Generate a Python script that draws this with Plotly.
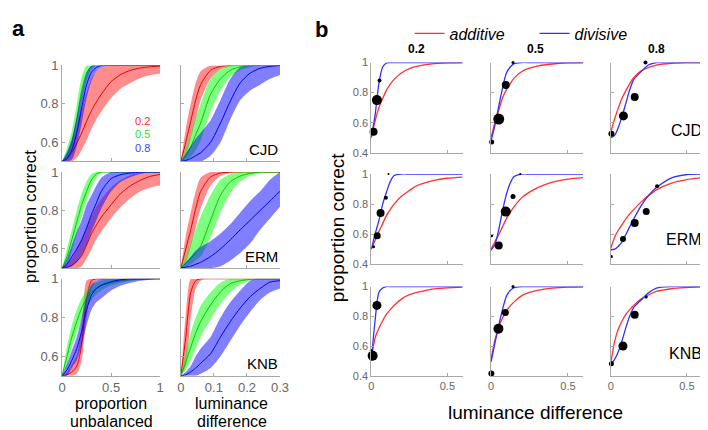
import plotly.graph_objects as go

W, H = 708, 430
FONT = "Liberation Sans, Arial, sans-serif"

# ---------------- panel a : psychometric bands ----------------
x_prop = [0, 0.05, 0.1, 0.15, 0.2, 0.25, 0.3, 0.35, 0.4, 0.5, 0.6, 0.7, 0.8, 0.9, 1.0]
x_lum = [0, 0.015, 0.03, 0.045, 0.06, 0.09, 0.12, 0.15, 0.18, 0.21, 0.24, 0.27, 0.3]

# CJD, proportion unbalanced
cjd_prop_r_lo = [.5, .5, .5, .52, .56, .61, .67, .72, .76, .83, .88, .91, .935, .95, .958]
cjd_prop_r_mid = [.5, .515, .547, .595, .648, .71, .765, .81, .85, .916, .953, .975, .987, .993, .997]
cjd_prop_r_hi = [.5, .54, .6, .68, .77, .86, .93, .97, .99, 1, 1, 1, 1, 1, 1]
cjd_prop_g_lo = [.5, .505, .55, .64, .8, .92, .98, 1, 1, 1, 1, 1, 1, 1, 1]
cjd_prop_g_mid = [.5, .53, .6, .72, .87, .96, .995, 1, 1, 1, 1, 1, 1, 1, 1]
cjd_prop_g_hi = [.5, .57, .66, .8, .94, 1, 1, 1, 1, 1, 1, 1, 1, 1, 1]
cjd_prop_b_lo = [.5, .5, .51, .58, .7, .83, .92, .97, .99, 1, 1, 1, 1, 1, 1]
cjd_prop_b_mid = [.5, .515, .56, .65, .78, .9, .965, .99, 1, 1, 1, 1, 1, 1, 1]
cjd_prop_b_hi = [.5, .55, .62, .73, .86, .96, 1, 1, 1, 1, 1, 1, 1, 1, 1]

# ERM, proportion unbalanced
erm_prop_r_lo = [.5, .5, .5, .5, .51, .55, .6, .65, .69, .76, .82, .865, .9, .92, .93]
erm_prop_r_mid = [.5, .505, .515, .535, .565, .62, .68, .725, .765, .83, .89, .93, .958, .978, .988]
erm_prop_r_hi = [.5, .52, .55, .6, .65, .71, .77, .82, .86, .92, .96, .985, .995, 1, 1]
erm_prop_g_lo = [.5, .52, .59, .68, .77, .85, .92, .97, .995, 1, 1, 1, 1, 1, 1]
erm_prop_g_mid = [.5, .56, .648, .74, .83, .9, .96, .99, 1, 1, 1, 1, 1, 1, 1]
erm_prop_g_hi = [.5, .6, .7, .8, .89, .95, .99, 1, 1, 1, 1, 1, 1, 1, 1]
erm_prop_b_lo = [.5, .5, .51, .53, .57, .62, .69, .75, .81, .9, .95, .975, .99, 1, 1]
erm_prop_b_mid = [.5, .52, .56, .6, .648, .71, .78, .84, .9, .966, .987, .995, 1, 1, 1]
erm_prop_b_hi = [.5, .55, .62, .69, .75, .83, .88, .93, .97, 1, 1, 1, 1, 1, 1]

# KNB, proportion unbalanced
knb_prop_r_lo = [.5, .5, .5, .51, .58, .8, .95, .99, 1, 1, 1, 1, 1, 1, 1]
knb_prop_r_mid = [.5, .505, .52, .55, .66, .9, .99, 1, 1, 1, 1, 1, 1, 1, 1]
knb_prop_r_hi = [.5, .52, .56, .61, .75, .99, 1, 1, 1, 1, 1, 1, 1, 1, 1]
knb_prop_g_lo = [.5, .55, .65, .72, .79, .85, .89, .92, .94, .965, .98, .99, .995, 1, 1]
knb_prop_g_mid = [.5, .6, .7, .78, .85, .9, .93, .95, .966, .98, .99, .995, .998, 1, 1]
knb_prop_g_hi = [.5, .65, .76, .84, .9, .94, .965, .98, .99, .997, 1, 1, 1, 1, 1]
knb_prop_b_lo = [.5, .5, .54, .58, .66, .76, .84, .88, .9, .94, .965, .98, .99, .995, 1]
knb_prop_b_mid = [.5, .53, .58, .64, .73, .84, .916, .95, .966, .985, .995, 1, 1, 1, 1]
knb_prop_b_hi = [.5, .56, .63, .7, .8, .91, .97, .99, 1, 1, 1, 1, 1, 1, 1]

# CJD, luminance difference
cjd_lum_r_lo = [.5, .53, .62, .72, .82, .93, .98, .995, 1, 1, 1, 1, 1]
cjd_lum_r_mid = [.5, .6, .71, .82, .9, .975, .995, 1, 1, 1, 1, 1, 1]
cjd_lum_r_hi = [.5, .67, .8, .91, .97, 1, 1, 1, 1, 1, 1, 1, 1]
cjd_lum_g_lo = [.5, .505, .525, .56, .61, .76, .87, .94, .975, .99, 1, 1, 1]
cjd_lum_g_mid = [.5, .53, .575, .64, .7, .85, .93, .975, .993, 1, 1, 1, 1]
cjd_lum_g_hi = [.5, .57, .64, .73, .8, .93, .98, 1, 1, 1, 1, 1, 1]
cjd_lum_b_lo = [.5, .5, .5, .5, .5, .53, .6, .72, .82, .87, .9, .93, .95]
cjd_lum_b_mid = [.5, .505, .515, .53, .545, .6, .7, .815, .91, .96, .985, .995, 1]
cjd_lum_b_hi = [.5, .54, .58, .62, .65, .715, .82, .93, .99, 1, 1, 1, 1]

# ERM, luminance difference
erm_lum_r_lo = [.5, .53, .61, .71, .81, .93, .98, .995, 1, 1, 1, 1, 1]
erm_lum_r_mid = [.5, .6, .7, .81, .9, .975, .995, 1, 1, 1, 1, 1, 1]
erm_lum_r_hi = [.5, .67, .79, .9, .97, 1, 1, 1, 1, 1, 1, 1, 1]
erm_lum_g_lo = [.5, .505, .52, .54, .56, .66, .79, .89, .95, .98, .995, 1, 1]
erm_lum_g_mid = [.5, .525, .55, .58, .615, .75, .88, .95, .98, .993, 1, 1, 1]
erm_lum_g_hi = [.5, .56, .63, .7, .77, .88, .96, .99, 1, 1, 1, 1, 1]
erm_lum_b_lo = [.5, .5, .5, .5, .5, .5, .51, .54, .58, .63, .7, .76, .82]
erm_lum_b_mid = [.5, .505, .51, .52, .53, .56, .6, .648, .7, .75, .8, .85, .9]
erm_lum_b_hi = [.5, .53, .56, .59, .61, .64, .68, .73, .79, .85, .9, .96, 1]

# KNB, luminance difference
knb_lum_r_lo = [.5, .55, .8, .95, .99, 1, 1, 1, 1, 1, 1, 1, 1]
knb_lum_r_mid = [.5, .7, .93, .99, 1, 1, 1, 1, 1, 1, 1, 1, 1]
knb_lum_r_hi = [.5, .82, 1, 1, 1, 1, 1, 1, 1, 1, 1, 1, 1]
knb_lum_g_lo = [.5, .53, .58, .64, .7, .79, .87, .93, .97, .99, 1, 1, 1]
knb_lum_g_mid = [.5, .57, .648, .72, .78, .866, .933, .975, .99, .997, 1, 1, 1]
knb_lum_g_hi = [.5, .62, .72, .8, .86, .93, .98, 1, 1, 1, 1, 1, 1]
knb_lum_b_lo = [.5, .5, .5, .5, .51, .54, .6, .68, .76, .83, .89, .93, .95]
knb_lum_b_mid = [.5, .505, .52, .54, .564, .614, .7, .78, .85, .908, .95, .983, .99]
knb_lum_b_hi = [.5, .52, .55, .6, .64, .7, .8, .88, .94, .99, 1, 1, 1]

# ---------------- panel b : model fits + data ----------------
x_fit = [0, 0.025, 0.05, 0.075, 0.1, 0.125, 0.15, 0.2, 0.25, 0.3, 0.4, 0.5, 0.6]

cjd_02_add = [.5, .61, .70, .76, .816, .856, .888, .932, .96, .975, .991, .997, .999]
cjd_02_div = [.5, .65, .86, .97, .997, 1, 1, 1, 1, 1, 1, 1, 1]
cjd_05_add = [.5, .6, .68, .765, .82, .86, .896, .94, .962, .976, .99, .997, .999]
cjd_05_div = [.48, .58, .71, .83, .93, .97, .993, 1, 1, 1, 1, 1, 1]
cjd_08_add = [.536, .624, .70, .765, .815, .86, .9, .945, .968, .983, .995, .999, 1]
cjd_08_div = [.5, .515, .57, .645, .733, .82, .885, .94, .985, 1, 1, 1, 1]
erm_02_add = [.5, .56, .617, .67, .725, .765, .80, .854, .89, .923, .955, .972, .98]
erm_02_div = [.5, .6, .69, .8, .88, .95, .99, 1, 1, 1, 1, 1, 1]
erm_05_add = [.5, .55, .596, .65, .703, .745, .783, .843, .88, .908, .946, .966, .976]
erm_05_div = [.495, .53, .63, .757, .865, .94, .983, 1, 1, 1, 1, 1, 1]
erm_08_add = [.505, .58, .628, .665, .703, .735, .763, .815, .858, .895, .94, .963, .976]
erm_08_div = [.495, .5, .52, .55, .6, .65, .7, .79, .86, .91, .975, .997, 1]
knb_02_add = [.5, .655, .72, .77, .814, .845, .873, .917, .945, .96, .983, .991, .996]
knb_02_div = [.5, .77, .96, .99, 1, 1, 1, 1, 1, 1, 1, 1, 1]
knb_05_add = [.51, .64, .727, .79, .836, .87, .897, .939, .96, .974, .989, .996, .998]
knb_05_div = [.493, .618, .738, .847, .935, .974, .993, 1, 1, 1, 1, 1, 1]
knb_08_add = [.487, .63, .716, .77, .814, .845, .873, .917, .945, .967, .985, .993, .998]
knb_08_div = [.48, .51, .563, .64, .727, .803, .858, .91, .96, .99, 1, 1, 1]

# observed points: x, y, marker size
cjd_02_dx, cjd_02_dy, cjd_02_ds = [.015, .037, .054], [.54, .75, .88], [8, 10, 4]
cjd_05_dx, cjd_05_dy, cjd_05_ds = [.004, .05, .096, .143], [.472, .624, .85, 1.0], [5, 11, 8, 3]
cjd_08_dx, cjd_08_dy, cjd_08_ds = [.004, .083, .157, .228], [.526, .645, .77, 1.0], [6, 9, 8, 4]
erm_02_dx, erm_02_dy, erm_02_ds = [.015, .039, .061, .096, .113], [.516, .59, .74, .843, 1.0], [3, 7, 8, 4, 2]
erm_05_dx, erm_05_dy, erm_05_ds = [.004, .05, .096, .143, .19], [.59, .525, .75, .85, 1.0], [3, 8, 10, 5, 2]
erm_08_dx, erm_08_dy, erm_08_ds = [.004, .08, .157, .233, .304], [.452, .568, .675, .75, .918], [3, 6, 8, 7, 4]
knb_02_dx, knb_02_dy, knb_02_ds = [.0, .009, .037], [.57, .535, .873], [3, 10, 9]
knb_05_dx, knb_05_dy, knb_05_ds = [.002, .048, .093, .143], [.415, .716, .825, 1.0], [6, 10, 7, 3]
knb_08_dx, knb_08_dy, knb_08_ds = [.004, .08, .157, .233], [.48, .6, .81, .93], [5, 9, 8, 3]

subjects = ["CJD", "ERM", "KNB"]
levels = ["0.2", "0.5", "0.8"]

# ---------------- layout helpers ----------------
band_fill = {"r": "rgba(255,0,0,0.45)", "g": "rgba(0,255,0,0.5)", "b": "rgba(0,0,255,0.5)"}
band_line = {"r": "rgb(230,0,0)", "g": "rgb(0,200,0)", "b": "rgb(0,0,235)"}

fig = go.Figure()
layout = {}


def make_axes(n, xpx, ypx, xrange, xticks, xtext, yrange, yticks, ytext, show_x, show_y, fsize):
    sfx = "" if n == 1 else str(n)
    common = dict(showline=True, linecolor="#a8a8a8", linewidth=1, ticks="inside", ticklen=3,
                  tickcolor="#a8a8a8", showgrid=False, zeroline=False, fixedrange=True,
                  tickfont=dict(family=FONT, size=fsize, color="#666"))
    layout["xaxis" + sfx] = dict(domain=[xpx[0] / W, xpx[1] / W], range=xrange, tickmode="array",
                                 tickvals=xticks, ticktext=xtext, showticklabels=show_x,
                                 anchor="y" + sfx, **common)
    layout["yaxis" + sfx] = dict(domain=[1 - ypx[1] / H, 1 - ypx[0] / H], range=yrange, tickmode="array",
                                 tickvals=yticks, ticktext=ytext, showticklabels=show_y,
                                 anchor="x" + sfx, **common)
    return "x" + sfx, "y" + sfx


a_cols = [(51, 151), (172, 273)]
a_rows = [(52, 151), (162, 261), (272, 372)]
b_cols = [(366, 459), (488, 582), (610, 703)]
b_rows = [(49, 142), (164, 257), (280, 372)]

panel_a = [
    [(x_prop, {"r": (cjd_prop_r_lo, cjd_prop_r_mid, cjd_prop_r_hi), "g": (cjd_prop_g_lo, cjd_prop_g_mid, cjd_prop_g_hi), "b": (cjd_prop_b_lo, cjd_prop_b_mid, cjd_prop_b_hi)}),
     (x_lum, {"r": (cjd_lum_r_lo, cjd_lum_r_mid, cjd_lum_r_hi), "g": (cjd_lum_g_lo, cjd_lum_g_mid, cjd_lum_g_hi), "b": (cjd_lum_b_lo, cjd_lum_b_mid, cjd_lum_b_hi)})],
    [(x_prop, {"r": (erm_prop_r_lo, erm_prop_r_mid, erm_prop_r_hi), "g": (erm_prop_g_lo, erm_prop_g_mid, erm_prop_g_hi), "b": (erm_prop_b_lo, erm_prop_b_mid, erm_prop_b_hi)}),
     (x_lum, {"r": (erm_lum_r_lo, erm_lum_r_mid, erm_lum_r_hi), "g": (erm_lum_g_lo, erm_lum_g_mid, erm_lum_g_hi), "b": (erm_lum_b_lo, erm_lum_b_mid, erm_lum_b_hi)})],
    [(x_prop, {"r": (knb_prop_r_lo, knb_prop_r_mid, knb_prop_r_hi), "g": (knb_prop_g_lo, knb_prop_g_mid, knb_prop_g_hi), "b": (knb_prop_b_lo, knb_prop_b_mid, knb_prop_b_hi)}),
     (x_lum, {"r": (knb_lum_r_lo, knb_lum_r_mid, knb_lum_r_hi), "g": (knb_lum_g_lo, knb_lum_g_mid, knb_lum_g_hi), "b": (knb_lum_b_lo, knb_lum_b_mid, knb_lum_b_hi)})],
]

panel_b = [
    [(cjd_02_add, cjd_02_div, cjd_02_dx, cjd_02_dy, cjd_02_ds), (cjd_05_add, cjd_05_div, cjd_05_dx, cjd_05_dy, cjd_05_ds), (cjd_08_add, cjd_08_div, cjd_08_dx, cjd_08_dy, cjd_08_ds)],
    [(erm_02_add, erm_02_div, erm_02_dx, erm_02_dy, erm_02_ds), (erm_05_add, erm_05_div, erm_05_dx, erm_05_dy, erm_05_ds), (erm_08_add, erm_08_div, erm_08_dx, erm_08_dy, erm_08_ds)],
    [(knb_02_add, knb_02_div, knb_02_dx, knb_02_dy, knb_02_ds), (knb_05_add, knb_05_div, knb_05_dx, knb_05_dy, knb_05_ds), (knb_08_add, knb_08_div, knb_08_dx, knb_08_dy, knb_08_ds)],
]

n = 0
# panel a subplots
for r in range(3):
    for c in range(2):
        n += 1
        if c == 0:
            xt, xtt = [0, 0.5, 1], ["0", "0.5", "1"]
            xr = [0, 1]
        else:
            xt, xtt = [0, 0.1, 0.2, 0.3], ["0", "0.1", "0.2", "0.3"]
            xr = [0, 0.3]
        xa, ya = make_axes(n, a_cols[c], a_rows[r], xr, xt, xtt, [0.5, 1], [0.6, 0.8, 1], ["0.6", "0.8", "1"],
                           r == 2, c == 0, 13)
        xs, bands = panel_a[r][c]
        for key in ["r", "g", "b"]:
            lo, mid, hi = bands[key]
            fig.add_trace(go.Scatter(x=xs, y=lo, mode="lines", line=dict(width=0, shape="spline", smoothing=0.7),
                                     xaxis=xa, yaxis=ya, showlegend=False, hoverinfo="skip"))
            fig.add_trace(go.Scatter(x=xs, y=hi, mode="lines", line=dict(width=0, shape="spline", smoothing=0.7),
                                     fill="tonexty", fillcolor=band_fill[key],
                                     xaxis=xa, yaxis=ya, showlegend=False, hoverinfo="skip"))
            fig.add_trace(go.Scatter(x=xs, y=mid, mode="lines",
                                     line=dict(color=band_line[key], width=1, shape="spline", smoothing=0.7),
                                     xaxis=xa, yaxis=ya, showlegend=False))

# panel b subplots
legend_done = False
for r in range(3):
    for c in range(3):
        n += 1
        xa, ya = make_axes(n, b_cols[c], b_rows[r], [0, 0.6], [0, 0.5], ["0", "0.5"],
                           [0.4, 1], [0.4, 0.6, 0.8, 1], ["0.4", "0.6", "0.8", "1"], r == 2, c == 0, 11)
        add, div, dx, dy, ds = panel_b[r][c]
        fig.add_trace(go.Scatter(x=x_fit, y=add, mode="lines", name="additive", legendrank=1,
                                 line=dict(color="#ff3030", width=1.3, shape="spline", smoothing=0.8),
                                 xaxis=xa, yaxis=ya, showlegend=not legend_done))
        fig.add_trace(go.Scatter(x=x_fit, y=div, mode="lines", name="divisive", legendrank=2,
                                 line=dict(color="#3030ff", width=1.3, shape="spline", smoothing=0.8),
                                 xaxis=xa, yaxis=ya, showlegend=not legend_done))
        fig.add_trace(go.Scatter(x=dx, y=dy, mode="markers",
                                 marker=dict(color="black", size=ds, opacity=1, line=dict(width=0)),
                                 cliponaxis=False, xaxis=xa, yaxis=ya, showlegend=False))
        legend_done = True

# ---------------- text ----------------
ann = []


def text(px, py, s, size, color="black", anchor="center", bold=False, italic=False, angle=0):
    ann.append(dict(x=px / W, y=1 - py / H, xref="paper", yref="paper", text=s, showarrow=False,
                    xanchor=anchor, yanchor="middle", textangle=angle,
                    font=dict(family=FONT, size=size, color=color,
                              weight="bold" if bold else "normal",
                              style="italic" if italic else "normal")))


text(7, 14, "a", 22, bold=True)
text(315, 15, "b", 22, bold=True)
text(19, 208, "proportion correct", 17, angle=-90)
text(101, 401, "proportion", 16)
text(101, 419, "unbalanced", 16)
text(224, 401, "luminance", 16)
text(224, 419, "difference", 16)
text(143, 109, levels[0], 11, color="rgb(255,40,40)", anchor="right")
text(143, 123, levels[1], 11, color="rgb(40,230,40)", anchor="right")
text(143, 137, levels[2], 11, color="rgb(60,60,255)", anchor="right")
for i, s in enumerate(subjects):
    text(273, [139, 249, 359][i], s, 15, anchor="right")
    text(705, [119, 232, 349][i], s, 16, anchor="right")
for i, s in enumerate(levels):
    text([412, 533, 657][i], 35, s, 12, bold=True)
text(331, 219, "proportion correct", 19, angle=-90)
text(533, 410, "luminance difference", 19)

fig.update_layout(
    width=W, height=H, margin=dict(l=0, r=0, t=0, b=0),
    plot_bgcolor="white", paper_bgcolor="white",
    annotations=ann,
    legend=dict(orientation="h", x=405 / W, y=1 - 19 / H, xanchor="left", yanchor="middle",
                traceorder="normal", entrywidth=80, entrywidthmode="pixels",
                font=dict(family=FONT, size=16, style="italic", color="black"),
                bgcolor="rgba(0,0,0,0)", itemwidth=30),
    **layout,
)

fig.write_html("out.html")
